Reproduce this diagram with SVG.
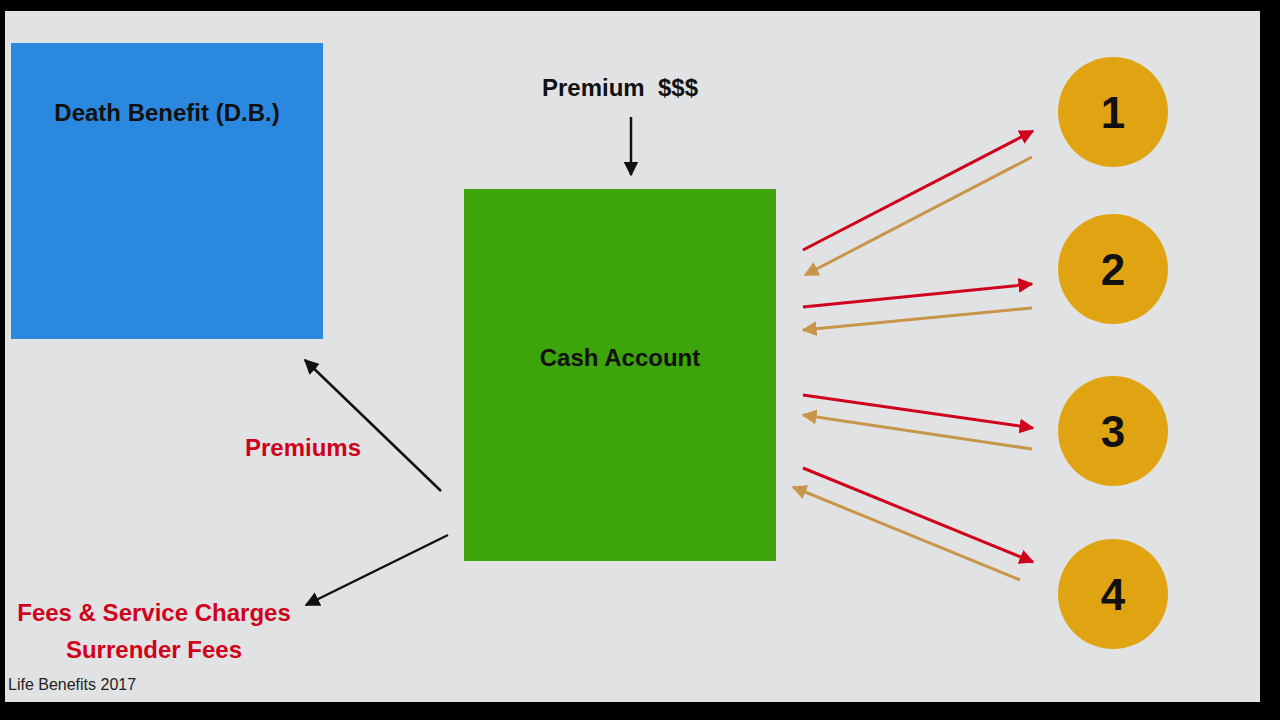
<svg xmlns="http://www.w3.org/2000/svg" width="1280" height="720" viewBox="0 0 1280 720">
<defs>
<style>
.t{font-family:"Liberation Sans",Arial,sans-serif;font-weight:bold;font-size:24px;}
.red{fill:#d0021b;}
.num{font-family:"Liberation Sans",Arial,sans-serif;font-weight:bold;font-size:44px;fill:#111;text-anchor:middle;}
.lr{stroke:#d0021b;stroke-width:3;fill:none;}
.lt{stroke:#c8964a;stroke-width:3;fill:none;}
.lb{stroke:#111;stroke-width:2.5;fill:none;}
</style>
<marker id="mr" viewBox="0 0 10 10" refX="9" refY="5" markerWidth="5" markerHeight="5" orient="auto" markerUnits="strokeWidth"><path d="M0,0 L10,5 L0,10 z" fill="#d0021b"/></marker>
<marker id="mt" viewBox="0 0 10 10" refX="9" refY="5" markerWidth="5" markerHeight="5" orient="auto" markerUnits="strokeWidth"><path d="M0,0 L10,5 L0,10 z" fill="#c8964a"/></marker>
<marker id="mb" viewBox="0 0 10 10" refX="9" refY="5" markerWidth="6" markerHeight="6" orient="auto" markerUnits="strokeWidth"><path d="M0,0 L10,5 L0,10 z" fill="#111"/></marker>
</defs>
<rect x="0" y="0" width="1280" height="720" fill="#000"/>
<rect x="5" y="11" width="1255" height="691" fill="#e1e2e4"/>
<g id="death-benefit">
<rect x="11" y="43" width="312" height="296" fill="#2a88de"/>
<text class="t" x="167" y="121" text-anchor="middle" fill="#111">Death Benefit (D.B.)</text>
</g>
<g id="cash-account">
<rect x="464" y="189" width="312" height="372" fill="#3ea40c"/>
<text class="t" x="620" y="366" text-anchor="middle" fill="#111">Cash Account</text>
</g>
<g id="premium-label"><text class="t" x="620" y="96" text-anchor="middle" fill="#111" style="white-space:pre">Premium  $$$</text></g>
<g id="premiums-label"><text class="t red" x="303" y="456" text-anchor="middle">Premiums</text></g>
<g id="fees-label">
<text class="t red" x="154" y="621" text-anchor="middle">Fees &amp; Service Charges</text>
<text class="t red" x="154" y="658" text-anchor="middle">Surrender Fees</text>
</g>
<g id="footer"><text x="8" y="690" font-family="'Liberation Sans',Arial,sans-serif" font-size="16" fill="#222">Life Benefits 2017</text></g>
<g id="n1"><circle cx="1113" cy="112" r="55" fill="#e0a412"/><text class="num" x="1113" y="128">1</text></g>
<g id="n2"><circle cx="1113" cy="269" r="55" fill="#e0a412"/><text class="num" x="1113" y="285">2</text></g>
<g id="n3"><circle cx="1113" cy="431" r="55" fill="#e0a412"/><text class="num" x="1113" y="447">3</text></g>
<g id="n4"><circle cx="1113" cy="594" r="55" fill="#e0a412"/><text class="num" x="1113" y="610">4</text></g>
<g id="connectors">
<line class="lb" x1="631" y1="117" x2="631" y2="175" marker-end="url(#mb)"/>
<line class="lb" x1="441" y1="491" x2="305" y2="360" marker-end="url(#mb)"/>
<line class="lb" x1="448" y1="535" x2="306" y2="605" marker-end="url(#mb)"/>
<line class="lr" x1="803" y1="250" x2="1033" y2="131" marker-end="url(#mr)"/>
<line class="lt" x1="1032" y1="157" x2="805" y2="275" marker-end="url(#mt)"/>
<line class="lr" x1="803" y1="307" x2="1032" y2="284" marker-end="url(#mr)"/>
<line class="lt" x1="1032" y1="308" x2="803" y2="330" marker-end="url(#mt)"/>
<line class="lr" x1="803" y1="395" x2="1033" y2="428" marker-end="url(#mr)"/>
<line class="lt" x1="1032" y1="449" x2="803" y2="415" marker-end="url(#mt)"/>
<line class="lr" x1="803" y1="468" x2="1033" y2="562" marker-end="url(#mr)"/>
<line class="lt" x1="1020" y1="580" x2="793" y2="487" marker-end="url(#mt)"/>
</g>
</svg>
